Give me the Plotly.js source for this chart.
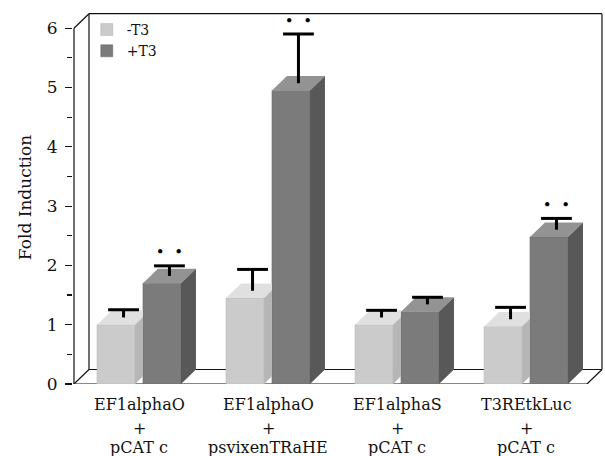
<!DOCTYPE html>
<html>
<head>
<meta charset="utf-8">
<script src="https://cdn.plot.ly/plotly-3.0.1.min.js"></script>
<style>html,body{margin:0;padding:0;background:#fff;}#chart{width:605px;height:456px;}</style>
</head>
<body>
<div id="chart"></div>
<script>
// ---- data ----
const labelLine1 = ['EF1alphaO', 'EF1alphaO', 'EF1alphaS', 'T3REtkLuc'];
const labelLine2 = ['+', '+', '+', '+'];
const labelLine3 = ['pCAT c', 'psvixenTRaHE', 'pCAT c', 'pCAT c'];
const minusT3 = [1.00, 1.45, 1.00, 0.97];
const plusT3 = [1.70, 4.95, 1.22, 2.48];
const minusT3Err = [0.13, 0.36, 0.12, 0.20];
const plusT3Err = [0.17, 0.83, 0.12, 0.19];
const significance = ['\u2022  \u2022', '\u2022  \u2022', '', '\u2022  \u2022'];
const yTicks = [0, 1, 2, 3, 4, 5, 6];

// ---- geometry / style ----
const FONT = 'DejaVu Serif, Liberation Serif, serif';
const xRange = [-0.5116, 3.5969];
const yRange = [0, 6.29];
const off = 0.178, bw = 0.2946;   // bar offset from group centre, bar width
const dx = 0.1163, dy = 0.2445;    // 3D depth in x and y units
const axisX = -0.5039, backRight = 3.589, yTop = 6;
const lightFront = '#cbcbcb', lightTop = '#e0e0e0', lightSide = '#b6b6b6';
const darkFront = '#7b7b7b', darkTop = '#939393', darkSide = '#585858';

const idx = minusT3.map((_, i) => i);
const xL = idx.map(i => i - off);
const xD = idx.map(i => i + off);

const lt = {x: [], y: []}, ls = {x: [], y: []}, dt = {x: [], y: []}, ds = {x: [], y: []};
function push(tr, pts) { pts.forEach(p => { tr.x.push(p[0]); tr.y.push(p[1]); }); tr.x.push(pts[0][0]); tr.y.push(pts[0][1]); tr.x.push(null); tr.y.push(null); }
idx.forEach(i => {
  const v = minusT3[i];
  const l = xL[i] - bw / 2, r = xL[i] + bw / 2, c = xD[i] - bw / 2;
  const t = (c - r) / dx;
  push(lt, [[l, v], [r, v], [c, v + dy * t], [c, v + dy], [l + dx, v + dy]]);
  push(ls, [[r, 0], [c, dy * t], [c, v + dy * t], [r, v]]);
  const w = plusT3[i];
  const l2 = xD[i] - bw / 2, r2 = xD[i] + bw / 2;
  push(dt, [[l2, w], [r2, w], [r2 + dx, w + dy], [l2 + dx, w + dy]]);
  push(ds, [[r2, 0], [r2 + dx, dy], [r2 + dx, w + dy], [r2, w]]);
});

function face(tr, color) {
  return {type: 'scatter', mode: 'lines', x: tr.x, y: tr.y, fill: 'toself', fillcolor: color,
          line: {width: 0, color: color}, showlegend: false, hoverinfo: 'skip'};
}

// error bars (upper only), rising from the middle of each bar's top face
const ex = [], ey = [], cx = [], cy = [];
function addErr(xs, vals, errs) {
  xs.forEach((x, i) => {
    const xm = x + dx / 2, b = vals[i] + dy / 2;
    ex.push(xm, xm, null); ey.push(b, b + errs[i], null);
    cx.push(xm); cy.push(b + errs[i]);
  });
}
addErr(xL, minusT3, minusT3Err);
addErr(xD, plusT3, plusT3Err);

const traces = [
  {type: 'bar', name: '-T3', x: xL, y: minusT3, width: bw, marker: {color: lightFront, line: {width: 0.5, color: '#b0b0b0'}}},
  {type: 'bar', name: '+T3', x: xD, y: plusT3, width: bw, marker: {color: darkFront, line: {width: 0.5, color: '#666'}}},
  face(lt, lightTop), face(ls, lightSide), face(dt, darkTop), face(ds, darkSide),
  {type: 'scatter', mode: 'lines', x: ex, y: ey, line: {color: '#000', width: 3}, showlegend: false, hoverinfo: 'skip'},
  {type: 'scatter', mode: 'markers', x: cx, y: cy, marker: {symbol: 'line-ew', size: 22, line: {width: 3, color: '#000'}},
   showlegend: false, hoverinfo: 'skip', cliponaxis: false},
  {type: 'scatter', mode: 'text', x: xD.map(x => x + dx / 2), y: plusT3.map((v, i) => v + dy / 2 + plusT3Err[i] + 0.08),
   text: significance, textposition: 'top center', textfont: {family: FONT, size: 15, color: '#000'},
   showlegend: false, hoverinfo: 'skip', cliponaxis: false}
];

const L = {color: '#111', width: 1.2};
function seg(x0, y0, x1, y1) { return {type: 'line', xref: 'x', yref: 'y', x0, y0, x1, y1, line: L, layer: 'below'}; }
const shapes = [
  seg(axisX, 0, axisX, yTop),
  seg(axisX, yTop, axisX + dx, yTop + dy),
  seg(axisX + dx, yTop + dy, backRight, yTop + dy),
  seg(axisX + dx, dy, axisX + dx, yTop + dy),
  seg(backRight, dy, backRight, yTop + dy),
  seg(axisX + dx, dy, backRight, dy),
  seg(axisX, 0, backRight - dx, 0),
  seg(axisX, 0, axisX + dx, dy),
  seg(backRight - dx, 0, backRight, dy)
];

const annotations = [];
idx.forEach(i => {
  [[labelLine1[i], -0.056], [labelLine2[i], -0.118], [labelLine3[i], -0.170]].forEach(([txt, yy]) => {
    annotations.push({xref: 'x', yref: 'paper', x: i, y: yy, text: txt, showarrow: false,
      xanchor: 'center', yanchor: 'middle', font: {family: FONT, size: 16, color: '#111'}});
  });
});

const layout = {
  width: 605, height: 456,
  margin: {l: 73, r: 2, t: 11, b: 72},
  paper_bgcolor: '#fff', plot_bgcolor: '#fff',
  barmode: 'overlay',
  showlegend: true,
  legend: {x: 0.026, y: 0.992, xanchor: 'left', yanchor: 'top', bgcolor: 'rgba(0,0,0,0)',
           font: {family: FONT, size: 14, color: '#111'}, tracegroupgap: 0, itemwidth: 30},
  xaxis: {range: xRange, showticklabels: false, ticks: '', showgrid: false, zeroline: false, showline: false, fixedrange: true},
  yaxis: {range: yRange, tickvals: yTicks, ticktext: yTicks.map(String), ticks: 'outside', ticklen: 7, tickwidth: 1.2,
          tickcolor: '#111', ticklabelstandoff: 4,
          minor: {dtick: 0.5, ticks: 'outside', ticklen: 5, tickwidth: 1.2, tickcolor: '#111', showgrid: false},
          showgrid: false, zeroline: false, showline: false,
          tickfont: {family: FONT, size: 17, color: '#111'},
          title: {text: 'Fold Induction', font: {family: FONT, size: 17, color: '#111'}, standoff: 10}},
  shapes: shapes,
  annotations: annotations
};

Plotly.newPlot('chart', traces, layout, {displayModeBar: false, staticPlot: true});
</script>
</body>
</html>
